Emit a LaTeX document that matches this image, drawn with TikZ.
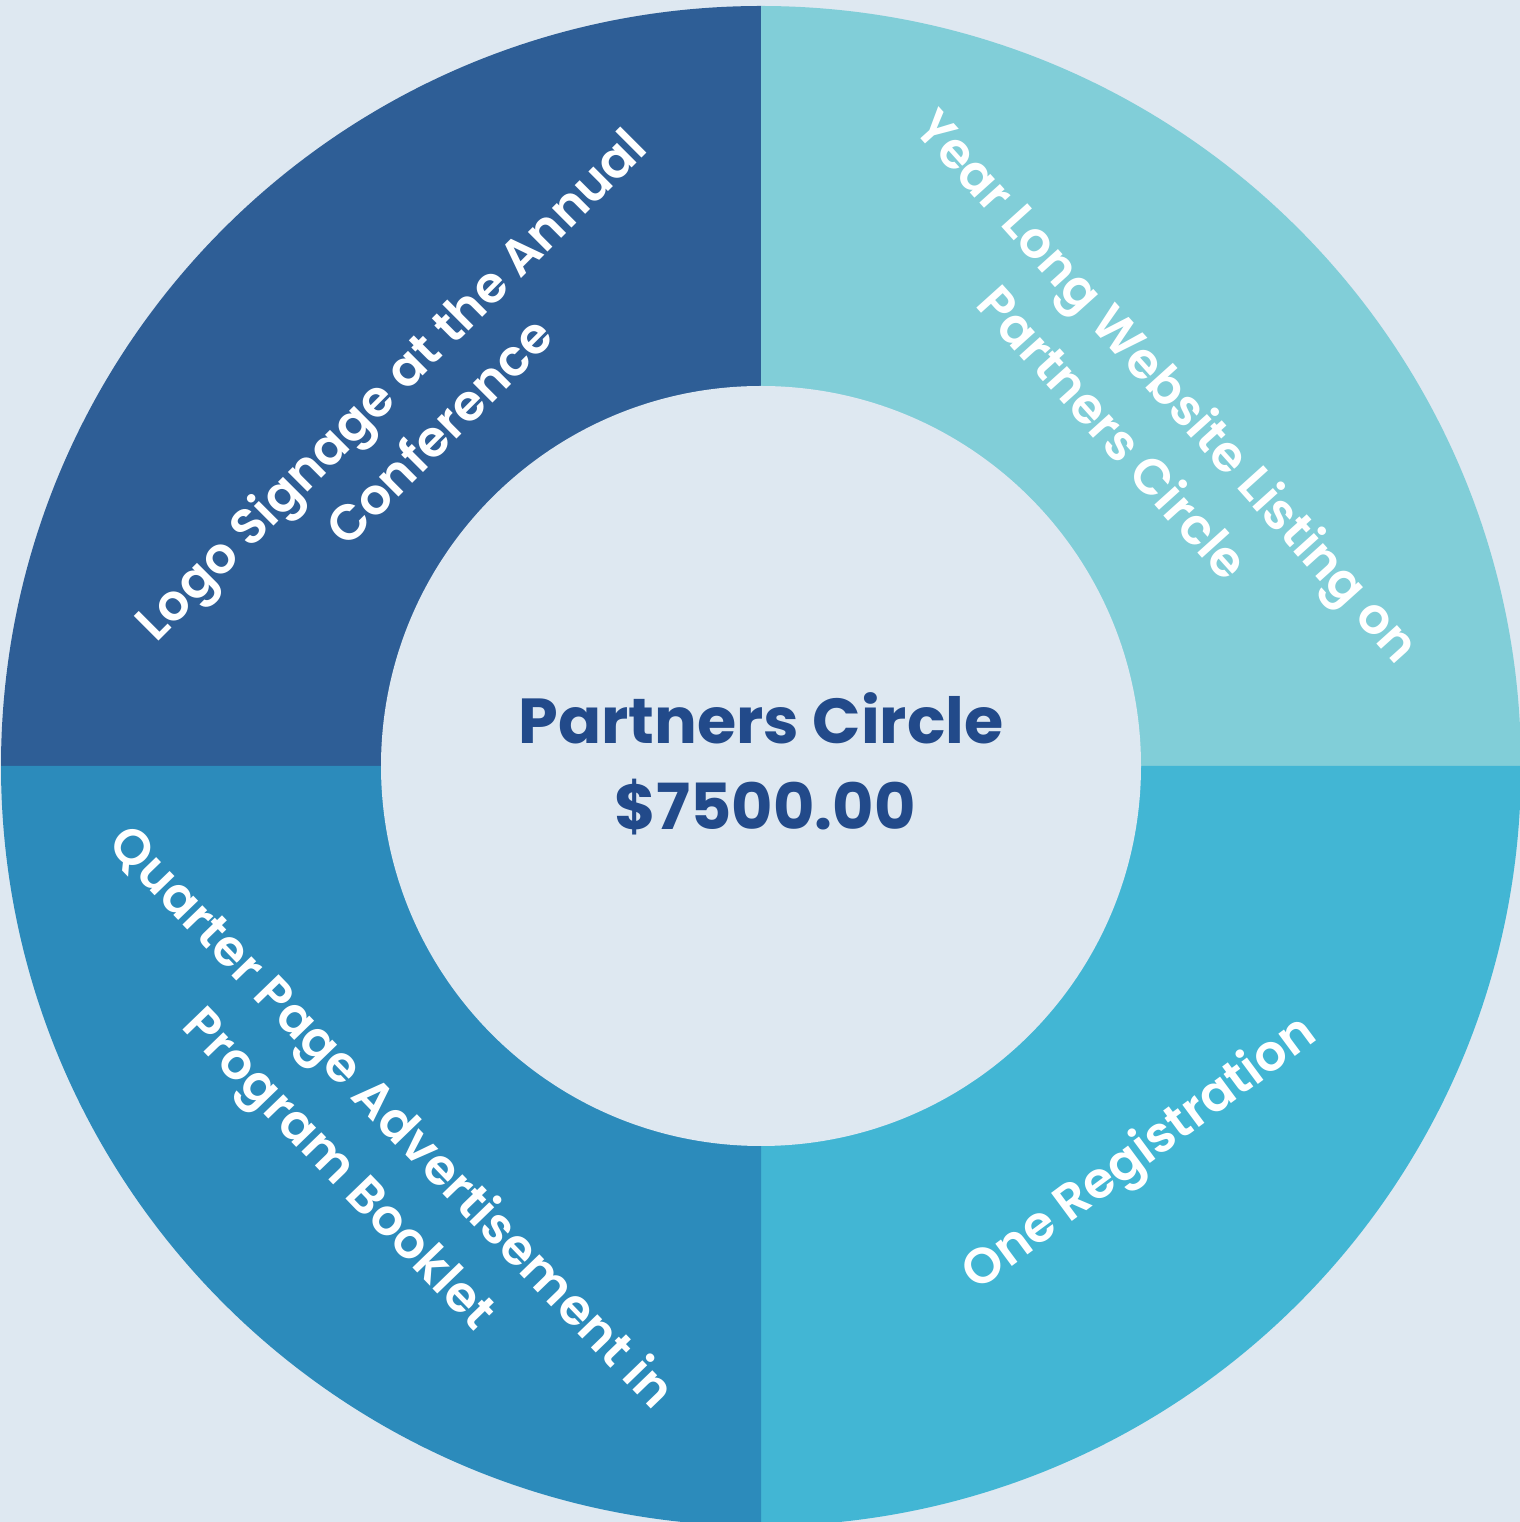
\documentclass[tikz,border=0pt]{standalone}
\usepackage{fontspec}
\setmainfont{Poppins}
\newfontfamily\psemi{Poppins SemiBold}
\definecolor{bg}{HTML}{DEE8F1}
\definecolor{qtl}{HTML}{2E5E96}
\definecolor{qtr}{HTML}{81CED8}
\definecolor{qbr}{HTML}{42B6D4}
\definecolor{qbl}{HTML}{2C8BBB}
\definecolor{ctext}{HTML}{224A8A}
\tikzset{
  quadlabel/.style={text=white, font=\psemi\fontsize{25}{30}\selectfont, inner sep=0pt,
    text height=0.7em, text depth=0pt, anchor=center},
  centerlabel/.style={text=ctext, font=\bfseries\fontsize{31.8}{36}\selectfont, inner sep=0pt, anchor=base}
}
\begin{document}
\begin{tikzpicture}[x=0.5pt,y=0.5pt]
\useasboundingbox (0,0) rectangle (1520,1522);
\fill[bg] (0,0) rectangle (1520,1522);
\coordinate (c) at (761,756);
\fill[qtl] (c) -- ++(180:760) arc[start angle=180,end angle=90,radius=760] -- cycle;
\fill[qtr] (c) -- ++(90:760) arc[start angle=90,end angle=0,radius=760] -- cycle;
\fill[qbr] (c) -- ++(0:760) arc[start angle=0,end angle=-90,radius=760] -- cycle;
\fill[qbl] (c) -- ++(-90:760) arc[start angle=-90,end angle=-180,radius=760] -- cycle;
\fill[bg] (c) circle[radius=380];
\node[centerlabel] (t1) at (761,778) {Partners Circle};
\node[centerlabel] (t2) at (765,692) {\$7500.00};
% top-left
\node[quadlabel, rotate=45] (tl1) at (398,1130) {Logo Signage at the Annual};
\node[quadlabel, rotate=45] (tl2) at (447,1083) {Conference};
% top-right
\node[quadlabel, rotate=-48] (tr1) at (1160,1129) {Year Long Website Listing on};
\node[quadlabel, rotate=-48] (tr2) at (1105,1082) {Partners Circle};
% bottom-right
\node[quadlabel, rotate=36.5] (br1) at (1144,362) {One Registration};
% bottom-left
\node[quadlabel, rotate=-46] (bl1) at (385,398) {Quarter Page Advertisement in};
\node[quadlabel, rotate=-46] (bl2) at (333,347) {Program Booklet};
\end{tikzpicture}
\end{document}
